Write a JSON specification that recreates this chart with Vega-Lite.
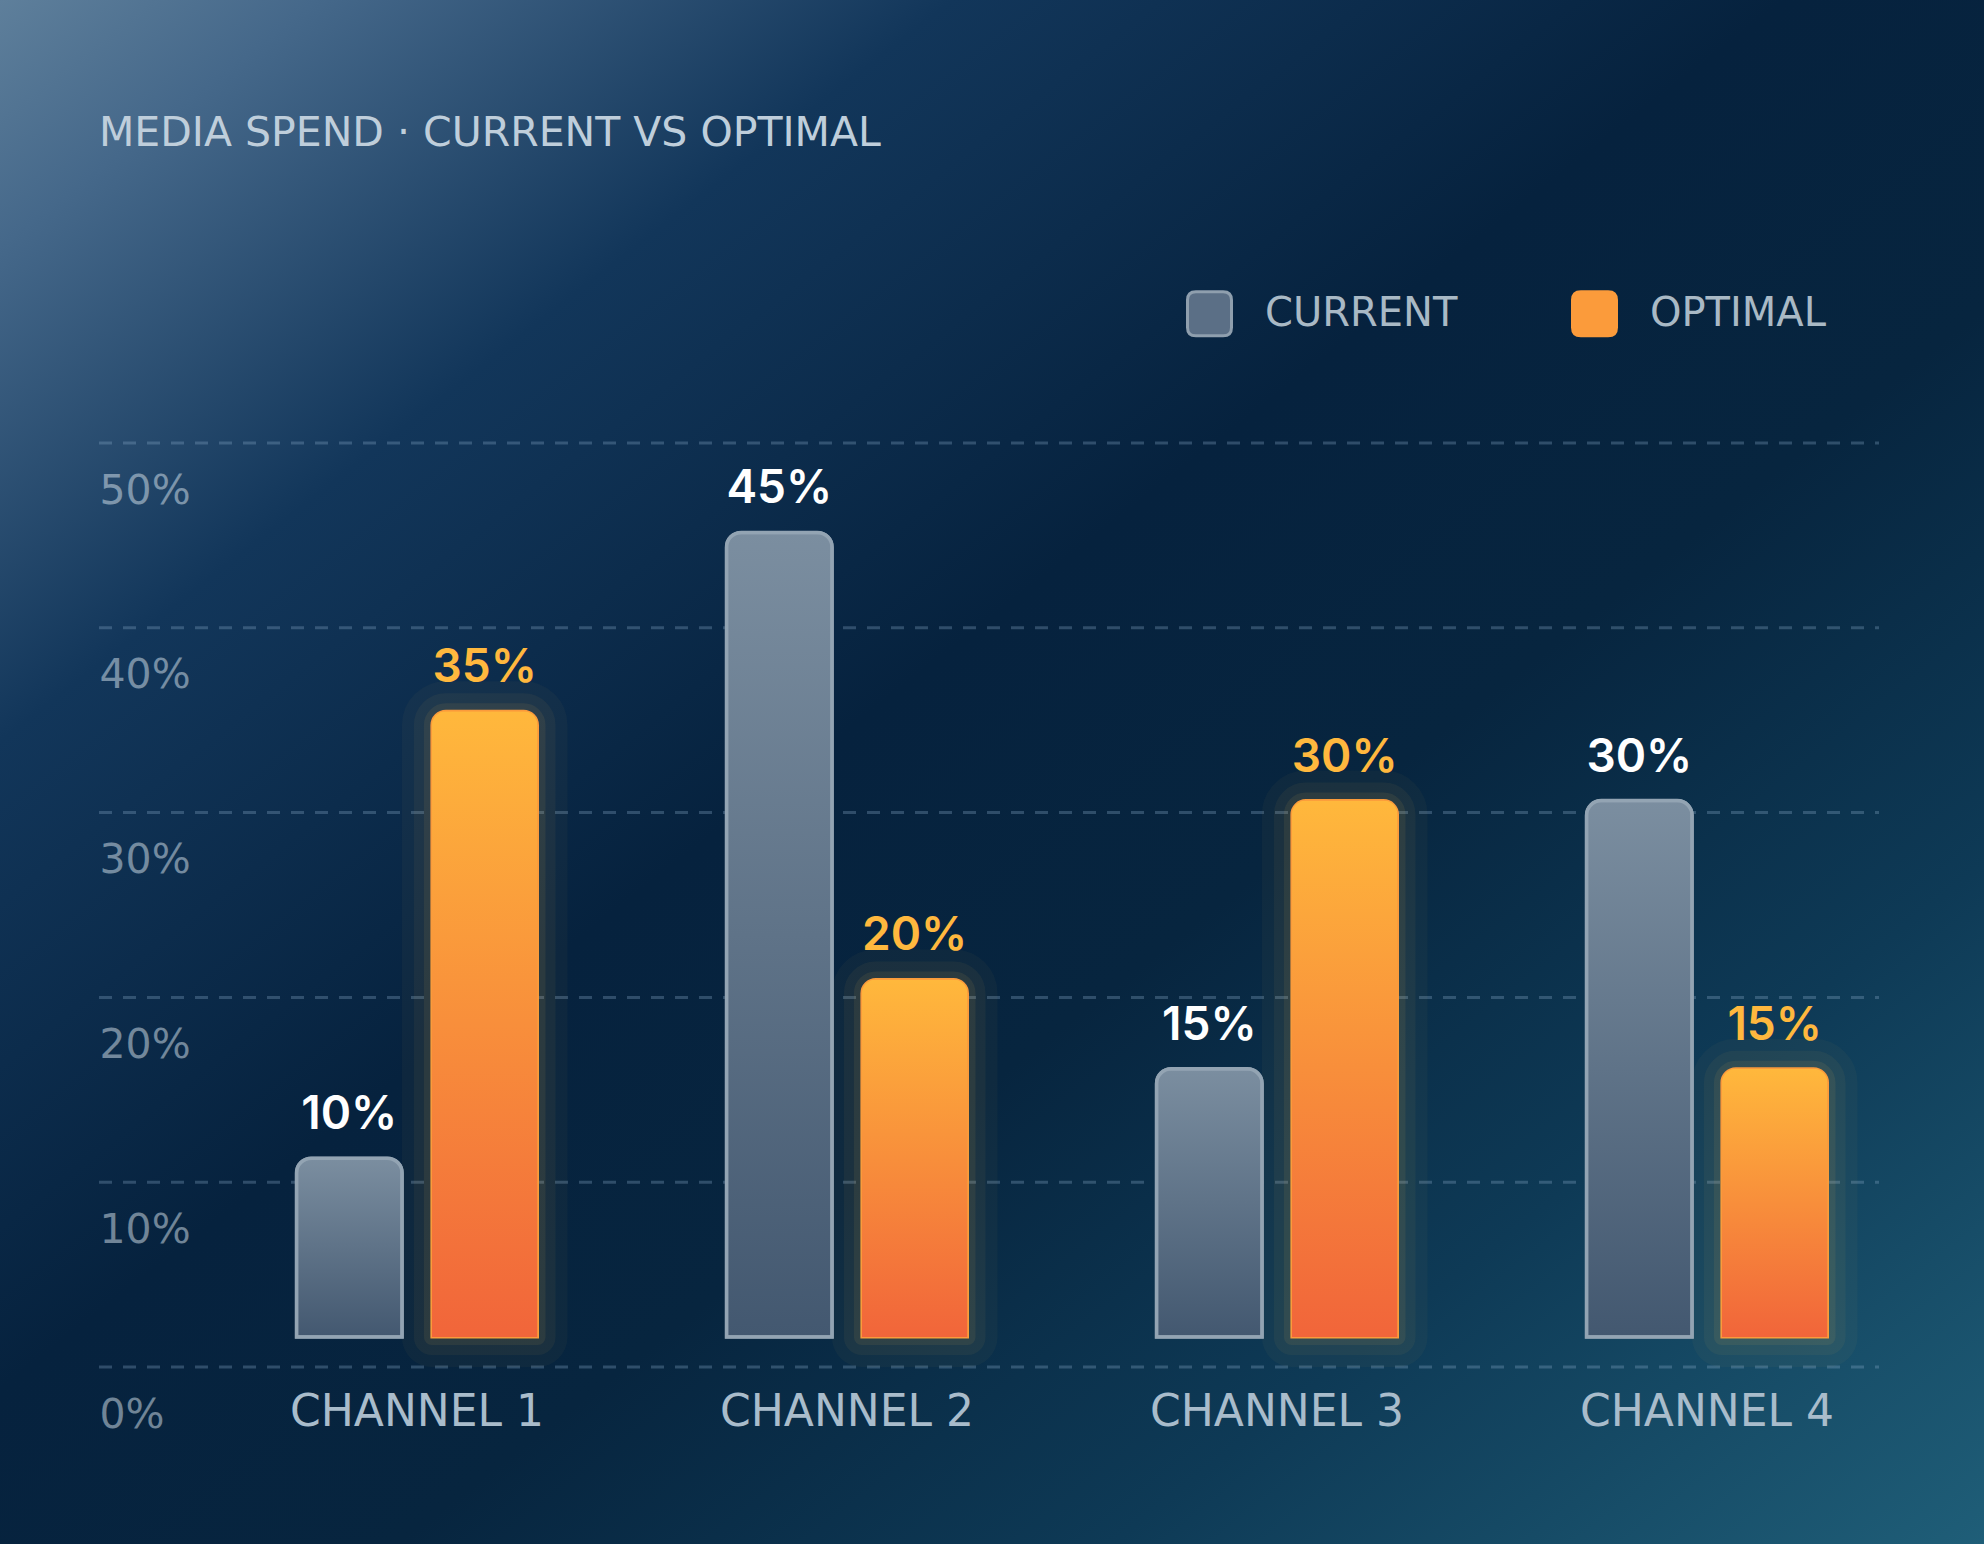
{
  "$schema": "https://vega.github.io/schema/vega-lite/v6.json",
  "width": 1984,
  "height": 1544,
  "autosize": {"type": "none"},
  "padding": 0,
  "background": "#0a2744",
  "config": {"view": {"stroke": null}},
  "title": {
    "text": "MEDIA SPEND · CURRENT VS OPTIMAL",
    "anchor": "start",
    "frame": "group",
    "font": "DejaVu Sans",
    "fontSize": 41,
    "fontWeight": "normal",
    "color": "#bfcedb",
    "dx": 99,
    "offset": -187,
    "baseline": "alphabetic"
  },
  "datasets": {
    "spend": [
      {"channel": "Channel 1", "series": "Current", "value": 0.10},
      {"channel": "Channel 1", "series": "Optimal", "value": 0.35},
      {"channel": "Channel 2", "series": "Current", "value": 0.45},
      {"channel": "Channel 2", "series": "Optimal", "value": 0.20},
      {"channel": "Channel 3", "series": "Current", "value": 0.15},
      {"channel": "Channel 3", "series": "Optimal", "value": 0.30},
      {"channel": "Channel 4", "series": "Current", "value": 0.30},
      {"channel": "Channel 4", "series": "Optimal", "value": 0.15}
    ],
    "grid": [{"v": 0}, {"v": 0.1}, {"v": 0.2}, {"v": 0.3}, {"v": 0.4}, {"v": 0.5}]
  },
  "layer": [
    {
      "data": {"values": [{}]},
      "mark": {
        "type": "rect",
        "fill": {
          "gradient": "linear", "x1": 0, "y1": 0, "x2": 1, "y2": 1,
          "stops": [
            {"offset": 0, "color": "#5e7f9b"},
            {"offset": 0.08, "color": "#45688a"},
            {"offset": 0.24, "color": "#12365a"},
            {"offset": 0.45, "color": "#06223e"},
            {"offset": 0.6, "color": "#07253f"},
            {"offset": 0.78, "color": "#0e3a56"},
            {"offset": 1, "color": "#1f5e78"}
          ]
        }
      },
      "encoding": {}
    },
    {
      "data": {"name": "grid"},
      "mark": {"type": "rule", "stroke": "#8fb0cc", "strokeOpacity": 0.3, "strokeWidth": 3, "strokeDash": [13, 11]},
      "encoding": {
        "y": {
          "field": "v", "type": "quantitative",
          "scale": {"domain": [0, 0.5], "range": [1367, 443]},
          "axis": {
            "orient": "left", "offset": -99, "domain": false, "ticks": false, "tickSize": 0, "grid": false,
            "labelAlign": "left", "labelBaseline": "alphabetic", "labelOffset": 60, "labelPadding": 0,
            "labelFont": "DejaVu Sans", "labelFontSize": 41, "labelColor": "#dbe7f0", "labelOpacity": 0.5,
            "format": ".0%", "values": [0, 0.1, 0.2, 0.3, 0.4, 0.5],
            "labelOverlap": false, "labelBound": false, "labelFlush": false, "title": null, "zindex": 1
          }
        },
        "x": {"datum": 0, "type": "quantitative", "scale": {"domain": [0, 1], "range": [99, 1879]}, "axis": null},
        "x2": {"datum": 1}
      }
    },
    {
      "data": {"name": "spend"},
      "encoding": {
        "x": {
          "field": "channel", "type": "nominal",
          "scale": {
            "domain": ["Channel 1", "Channel 2", "Channel 3", "Channel 4"],
            "range": [202, 1922], "paddingInner": 0.4395, "paddingOuter": 0.21975
          },
          "axis": {
            "orient": "bottom", "offset": -177, "domain": false, "ticks": false, "tickSize": 0, "grid": false,
            "labelPadding": 58, "labelBaseline": "alphabetic", "labelAngle": 0, "labelLimit": 600,
            "labelFont": "DejaVu Sans", "labelFontSize": 44, "labelColor": "#a9bccb",
            "labelExpr": "upper(datum.label)", "title": null, "zindex": 1
          }
        },
        "xOffset": {
          "field": "series", "type": "nominal",
          "scale": {"domain": ["Current", "Optimal"], "paddingInner": 0.22, "paddingOuter": 0}
        },
        "y": {
          "field": "value", "type": "quantitative",
          "scale": {"domain": [0, 0.5], "range": [1337, 443]},
          "axis": null
        }
      },
      "layer": [
        {
          "transform": [{"filter": "datum.series === 'Optimal'"}],
          "mark": {"type": "bar", "fillOpacity": 0, "stroke": "#ffc04a", "strokeWidth": 60, "strokeOpacity": 0.035, "strokeJoin": "round", "cornerRadiusTopLeft": 14, "cornerRadiusTopRight": 14}
        },
        {
          "transform": [{"filter": "datum.series === 'Optimal'"}],
          "mark": {"type": "bar", "fillOpacity": 0, "stroke": "#ffc04a", "strokeWidth": 36, "strokeOpacity": 0.05, "strokeJoin": "round", "cornerRadiusTopLeft": 14, "cornerRadiusTopRight": 14}
        },
        {
          "transform": [{"filter": "datum.series === 'Optimal'"}],
          "mark": {"type": "bar", "fillOpacity": 0, "stroke": "#ffc04a", "strokeWidth": 16, "strokeOpacity": 0.08, "strokeJoin": "round", "cornerRadiusTopLeft": 14, "cornerRadiusTopRight": 14}
        },
        {
          "mark": {"type": "bar", "strokeWidth": 3, "cornerRadiusTopLeft": 14, "cornerRadiusTopRight": 14},
          "encoding": {
            "fill": {
              "field": "series", "type": "nominal",
              "scale": {"domain": ["Current", "Optimal"], "range": ["#5b6f86", "#fb9b3b"]},
              "legend": {
                "orient": "none", "legendX": 1186, "legendY": 290, "direction": "horizontal", "columns": 2,
                "title": null, "padding": 0,
                "symbolType": "M -0.62 -1 L 0.62 -1 Q 1 -1 1 -0.62 L 1 0.62 Q 1 1 0.62 1 L -0.62 1 Q -1 1 -1 0.62 L -1 -0.62 Q -1 -1 -0.62 -1 Z",
                "symbolSize": 1936, "symbolStrokeWidth": 3, "symbolOpacity": 1,
                "labelFont": "DejaVu Sans", "labelFontSize": 40, "labelColor": "#a9b9c5", "labelLimit": 500,
                "labelOffset": 32, "columnPadding": 108, "labelExpr": "upper(datum.label)"
              }
            },
            "stroke": {
              "field": "series", "type": "nominal",
              "scale": {"domain": ["Current", "Optimal"], "range": ["#8f9fae", "#fb9b3b"]},
              "legend": {
                "orient": "none", "legendX": 1186, "legendY": 290, "direction": "horizontal", "columns": 2,
                "title": null, "padding": 0,
                "symbolType": "M -0.62 -1 L 0.62 -1 Q 1 -1 1 -0.62 L 1 0.62 Q 1 1 0.62 1 L -0.62 1 Q -1 1 -1 0.62 L -1 -0.62 Q -1 -1 -0.62 -1 Z",
                "symbolSize": 1936, "symbolStrokeWidth": 3, "symbolOpacity": 1,
                "labelFont": "DejaVu Sans", "labelFontSize": 40, "labelColor": "#a9b9c5", "labelLimit": 500,
                "labelOffset": 32, "columnPadding": 108, "labelExpr": "upper(datum.label)"
              }
            }
          }
        },
        {
          "transform": [{"filter": "datum.series === 'Current'"}],
          "mark": {
            "type": "bar", "stroke": "#93a4b3", "strokeWidth": 3.5,
            "cornerRadiusTopLeft": 15, "cornerRadiusTopRight": 15,
            "fill": {
              "gradient": "linear", "x1": 0, "y1": 0, "x2": 0, "y2": 1,
              "stops": [{"offset": 0, "color": "#7b8ea0"}, {"offset": 1, "color": "#435870"}]
            }
          }
        },
        {
          "transform": [{"filter": "datum.series === 'Optimal'"}],
          "mark": {
            "type": "bar",
            "cornerRadiusTopLeft": 14, "cornerRadiusTopRight": 14,
            "fill": {
              "gradient": "linear", "x1": 0, "y1": 0, "x2": 0, "y2": 1,
              "stops": [{"offset": 0, "color": "#ffb83c"}, {"offset": 1, "color": "#f1653a"}]
            }
          }
        },
        {
          "mark": {"type": "text", "baseline": "alphabetic", "dy": -29, "font": "Inter", "fontSize": 46, "fontWeight": 600},
          "encoding": {
            "text": {"field": "value", "type": "quantitative", "format": ".0%"},
            "color": {"condition": {"test": "datum.series === 'Optimal'", "value": "#ffb83e"}, "value": "#ffffff"}
          }
        }
      ]
    }
  ],
  "resolve": {"scale": {"x": "independent", "y": "independent"}}
}
